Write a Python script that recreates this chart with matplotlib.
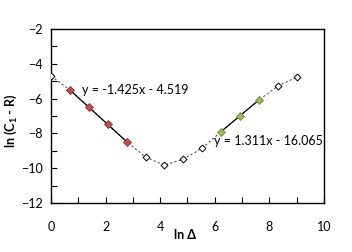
import numpy as np
import matplotlib
matplotlib.use("Agg")
import matplotlib.pyplot as plt

plt.rcParams['font.family'] = ['Lato', 'DejaVu Sans']

ln_delta = [0.0, 0.693, 1.386, 2.079, 2.773, 3.466, 4.159, 4.852, 5.545, 6.238, 6.931, 7.625, 8.318, 9.011]
ln_c1r = [-4.70, -5.51, -6.49, -7.48, -8.47, -9.36, -9.82, -9.47, -8.84, -7.89, -6.98, -6.07, -5.28, -4.76]
red_idx = [1, 2, 3, 4]
green_idx = [9, 10, 11]
fit1 = (-1.425, -4.519)
fit2 = (1.311, -16.065)
eq1 = "y = -1.425x - 4.519"
eq2 = "y = 1.311x - 16.065"

fig = plt.figure(figsize=(3.52, 2.52), dpi=100)
ax = fig.add_axes([0.145, 0.194, 0.775, 0.691])

x = np.array(ln_delta); y = np.array(ln_c1r)
ax.plot(x, y, linestyle=(0, (2, 2)), color='#555555', linewidth=0.8, zorder=1)
open_idx = [i for i in range(len(x)) if i not in red_idx + green_idx]
ax.plot(x[open_idx], y[open_idx], linestyle='none', marker='D', markersize=3.5,
        markerfacecolor='white', markeredgecolor='black', markeredgewidth=0.7, zorder=3)

xr = x[red_idx]
ax.plot([xr.min(), xr.max()], [fit1[0]*xr.min()+fit1[1], fit1[0]*xr.max()+fit1[1]],
        color='black', linewidth=0.9, zorder=2)
xg = x[green_idx]
ax.plot([xg.min(), xg.max()], [fit2[0]*xg.min()+fit2[1], fit2[0]*xg.max()+fit2[1]],
        color='black', linewidth=0.9, zorder=2)
ax.plot(x[red_idx], y[red_idx], linestyle='none', marker='D', markersize=4,
        markerfacecolor='#C0504D', markeredgecolor='#8B2F2C', markeredgewidth=0.6, zorder=3)
ax.plot(x[green_idx], y[green_idx], linestyle='none', marker='D', markersize=4,
        markerfacecolor='#9BBB59', markeredgecolor='#6E8A3A', markeredgewidth=0.6, zorder=3)

ax.text(1.13, -5.5, eq1, fontsize=9, va='center', ha='left')
ax.text(5.97, -8.44, eq2, fontsize=9, va='center', ha='left')

ax.set_xlim(0, 10)
ax.set_ylim(-12, -2)
ax.set_xticks([0, 2, 4, 6, 8, 10])
ax.set_xticks([1, 3, 5, 7, 9], minor=True)
ax.set_yticks([-12, -10, -8, -6, -4, -2])
ax.set_yticks([-11, -9, -7, -5, -3], minor=True)
ax.tick_params(which='both', direction='in', labelsize=9, pad=13, length=4, width=0.8)
ax.tick_params(axis='y', which='both', pad=6)
ax.tick_params(which='minor', length=4)
for s in ax.spines.values():
    s.set_linewidth(1.0)
ax.set_xlabel('ln Δ', fontsize=9, fontweight='bold', va='center')
ax.xaxis.set_label_coords(0.49, -0.184)
ax.set_ylabel('ln (C$_\\mathregular{1}$ - R)', fontsize=9, fontweight='bold', va='center')
ax.yaxis.set_label_coords(-0.147, 0.47)

fig.savefig('out.png', dpi=100)
